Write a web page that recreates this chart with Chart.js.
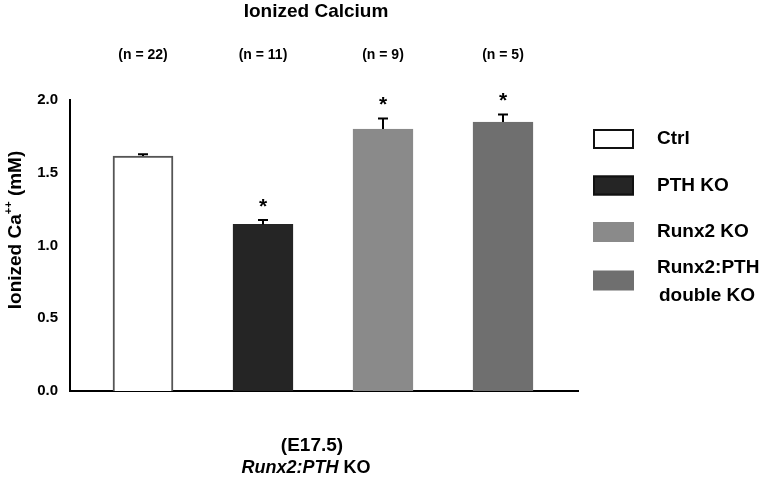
<!DOCTYPE html>
<html>
<head>
<meta charset="utf-8">
<script src="https://cdn.jsdelivr.net/npm/chart.js@4"></script>
<style>
  html, body { margin: 0; padding: 0; background: #fff; }
  #wrap { width: 762px; height: 480px; }
</style>
</head>
<body>
<div id="wrap"><canvas id="caChart" width="762" height="480"></canvas></div>
<script>
// values
const groups = ["Ctrl", "PTH KO", "Runx2 KO", "Runx2:PTH double KO"];
const legendLines = [["Ctrl"], ["PTH KO"], ["Runx2 KO"], ["Runx2:PTH", "double KO"]];
const meanCa = [1.615, 1.145, 1.80, 1.848];
const semCa = [0.012, 0.03, 0.072, 0.052];
const nCounts = ["(n = 22)", "(n = 11)", "(n = 9)", "(n = 5)"];
const significant = [false, true, true, true];
const yTicks = [0, 0.5, 1.0, 1.5, 2.0];

const fills = ["#ffffff", "#252525", "#8a8a8a", "#6f6f6f"];
const borders = ["#555555", "#252525", "#8a8a8a", "#6f6f6f"];
const FONT = "'Liberation Sans', Arial, Helvetica, sans-serif";

const extras = {
    id: "extras",
    afterDatasetsDraw(chart) {
        const ctx = chart.ctx;
        const x = chart.scales.x, y = chart.scales.y;
        ctx.save();
        ctx.fillStyle = "#000";
        ctx.strokeStyle = "#000";

        // error bars (upper half only), asterisks, group sizes
        meanCa.forEach((v, i) => {
            const cx = x.getPixelForValue(i);
            const top = y.getPixelForValue(v);
            const hi = y.getPixelForValue(v + semCa[i]);
            ctx.lineWidth = 2;
            ctx.beginPath();
            ctx.moveTo(cx, top);
            ctx.lineTo(cx, hi);
            ctx.moveTo(cx - 5, hi);
            ctx.lineTo(cx + 5, hi);
            ctx.stroke();
            ctx.textAlign = "center";
            ctx.textBaseline = "middle";
            if (significant[i]) {
                ctx.font = "bold 21px " + FONT;
                ctx.fillText("*", cx, hi - 13);
            }
            ctx.font = "bold 14px " + FONT;
            ctx.fillText(nCounts[i], cx, 55);
        });

        // title
        ctx.font = "bold 19px " + FONT;
        ctx.fillText("Ionized Calcium", 316, 12);

        // y axis title, rotated
        ctx.save();
        ctx.translate(16, 230);
        ctx.rotate(-Math.PI / 2);
        ctx.textBaseline = "middle";
        const p1 = "Ionized Ca", p2 = "++", p3 = " (mM)";
        ctx.font = "bold 19px " + FONT;
        const w1 = ctx.measureText(p1).width;
        const w3 = ctx.measureText(p3).width;
        ctx.font = "bold 11px " + FONT;
        const w2 = ctx.measureText(p2).width;
        const sx = -(w1 + w2 + w3) / 2;
        ctx.textAlign = "left";
        ctx.font = "bold 19px " + FONT;
        ctx.fillText(p1, sx, 0);
        ctx.fillText(p3, sx + w1 + w2, 0);
        ctx.font = "bold 11px " + FONT;
        ctx.fillText(p2, sx + w1, -7);
        ctx.restore();

        // legend
        groups.forEach((g, i) => {
            const by = 129 + i * 46.5 + (i === 3 ? 2 : 0);
            ctx.fillStyle = fills[i];
            ctx.fillRect(593, by, 41, 20);
            if (i < 2) {
                ctx.lineWidth = 2;
                ctx.strokeStyle = "#111";
                ctx.strokeRect(594, by + 1, 39, 18);
            }
            ctx.fillStyle = "#000";
            ctx.font = "bold 19px " + FONT;
            ctx.textAlign = "left";
            ctx.textBaseline = "middle";
            const lines = legendLines[i];
            if (lines.length === 1) {
                ctx.fillText(lines[0], 657, by + 10);
            } else {
                ctx.fillText(lines[0], 657, by - 3);
                ctx.fillText(lines[1], 659, by + 25);
            }
        });

        // bottom caption
        ctx.font = "bold 19px " + FONT;
        ctx.textAlign = "center";
        ctx.fillText("(E17.5)", 312, 446);
        const it = "Runx2:PTH", up = " KO";
        ctx.font = "italic bold 18px " + FONT;
        const wi = ctx.measureText(it).width;
        ctx.font = "bold 18px " + FONT;
        const wu = ctx.measureText(up).width;
        const start = 306 - (wi + wu) / 2;
        ctx.textAlign = "left";
        ctx.font = "italic bold 18px " + FONT;
        ctx.fillText(it, start, 468);
        ctx.font = "bold 18px " + FONT;
        ctx.fillText(up, start + wi, 468);

        ctx.restore();
    }
};

const ctx = document.getElementById("caChart").getContext("2d");
new Chart(ctx, {
    type: "bar",
    data: {
        labels: groups,
        datasets: [{
            label: "Ionized Ca",
            data: meanCa.map((v, i) => ({ x: i, y: v })),
            backgroundColor: fills,
            borderColor: borders,
            borderWidth: 2,
            borderSkipped: "bottom",
            barThickness: 60
        }]
    },
    options: {
        responsive: false,
        animation: false,
        layout: { padding: { top: 100, bottom: 89, left: 0, right: 184 } },
        plugins: {
            legend: { display: false },
            title: { display: false },
            tooltip: { enabled: false }
        },
        scales: {
            x: {
                type: "linear",
                offset: false,
                min: -0.6083,
                max: 3.625,
                grid: { display: false, drawTicks: false },
                border: { display: true, color: "#000", width: 2 },
                ticks: { display: false },
                afterFit: s => { s.height = 0; }
            },
            y: {
                min: 0,
                max: 2.0,
                afterBuildTicks: s => { s.ticks = yTicks.map(v => ({ value: v })); },
                grid: { display: false, drawTicks: true, tickLength: 6, tickColor: "#000", tickWidth: 2 },
                border: { display: true, color: "#000", width: 2 },
                ticks: {
                    color: "#000",
                    padding: 6,
                    font: { family: FONT, size: 15, weight: "bold" },
                    callback: v => Number(v).toFixed(1)
                },
                afterFit: s => { s.width = 70; }
            }
        }
    },
    plugins: [extras]
});
</script>
</body>
</html>
